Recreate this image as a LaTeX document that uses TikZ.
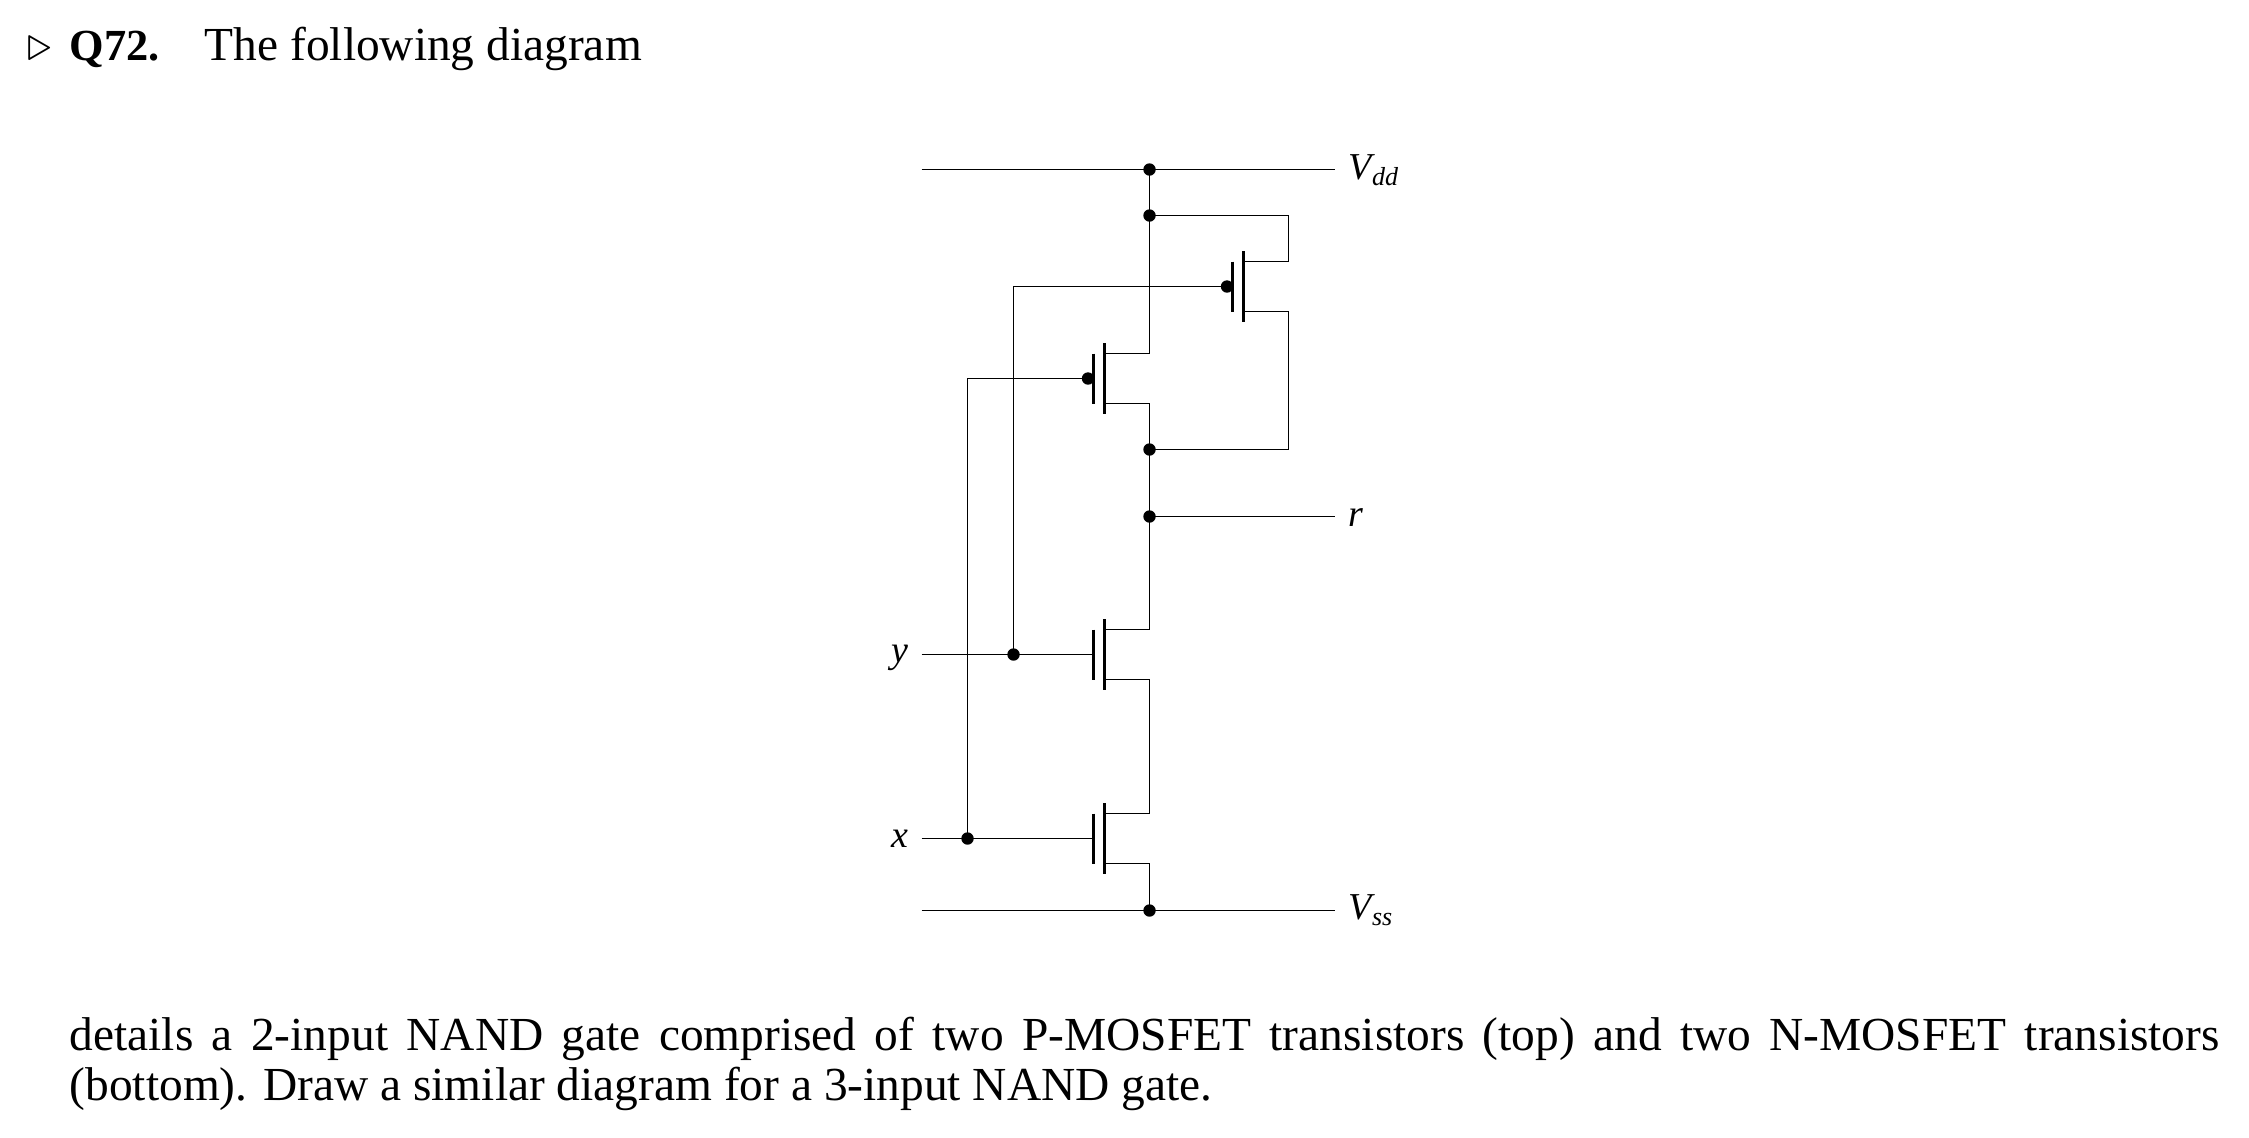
\documentclass[tikz,border=0pt]{standalone}
\usepackage{fontspec}
\setmainfont{Liberation Serif}
\begin{document}
\begin{tikzpicture}[x=0.5pt, y=-0.5pt, line width=0.8pt,
    dot/.style={circle, fill=black, inner sep=0pt, minimum size=6.2pt},
    bar/.style={line width=1.5pt},
    lbl/.style={anchor=base west, inner sep=0pt, font=\fontsize{19}{23}\selectfont\itshape},
    lblr/.style={anchor=base east, inner sep=0pt, font=\fontsize{19}{23}\selectfont\itshape},
    txt/.style={anchor=base west, inner sep=0pt, font=\fontsize{23.7}{26}\selectfont}]
    \useasboundingbox (0,0) rectangle (2249,1137);

    % text above and below
    \node[txt] (mark) at (27,60) {$\triangleright$};
    \node[txt, font=\fontsize{22.2}{26}\selectfont\bfseries] (num) at (69,60) {Q72.};
    \node[txt] (head) at (204,60) {The following diagram};
    \node[txt] (line1) at (69,1050) {\makebox[1075pt][s]{details a 2-input NAND gate comprised of two P-MOSFET transistors (top) and two N-MOSFET transistors}};
    \node[txt] (line2) at (69,1100) {(bottom). Draw a similar diagram for a 3-input NAND gate.};

    % transistors: name, channel x, gate y
    \foreach \name/\cx/\cy in {p1/1243.5/286.5, p2/1104.5/378.5, n1/1104.5/654.5, n2/1104.5/838.5} {
        \draw[bar] (\cx,\cy-35.5) -- (\cx,\cy+35.5);
        \draw[bar] (\cx-11,\cy-25) -- (\cx-11,\cy+25);
        \coordinate (\name a) at (\cx,\cy-25);
        \coordinate (\name b) at (\cx,\cy+25);
        \coordinate (\name g) at (\cx-11,\cy);
    }

    % junctions
    \node[dot] (vddj) at (1149.5,169.5) {};
    \node[dot] (j2) at (1149.5,215.5) {};
    \node[dot] (j3) at (1149.5,449.5) {};
    \node[dot] (rj) at (1149.5,516.5) {};
    \node[dot] (vssj) at (1149.5,910.5) {};
    \node[dot] (yj) at (1013.5,654.5) {};
    \node[dot] (xj) at (967.5,838.5) {};
    \node[dot] (p1dot) at (1227,286.5) {};
    \node[dot] (p2dot) at (1088,378.5) {};

    % free wire ends
    \coordinate (vddl) at (921.5,169.5);
    \coordinate (vddr) at (1334.5,169.5);
    \coordinate (vssl) at (921.5,910.5);
    \coordinate (vssr) at (1334.5,910.5);
    \coordinate (rr) at (1334.5,516.5);
    \coordinate (yl) at (921.5,654.5);
    \coordinate (xl) at (921.5,838.5);
    \coordinate (bus) at (1288.5,215.5);

    % rails
    \draw (vddl) -- (vddr);
    \draw (vssl) -- (vssr);
    \draw (rj.center) -- (rr);

    % pull-up network
    \draw (vddj.center) -- (j2.center) |- (p2a);
    \draw (j2.center) -- (bus) |- (p1a);
    \draw (p1b) -- (p1b -| bus) |- (j3.center);
    \draw (p2b) -| (j3.center);

    % pull-down network
    \draw (j3.center) -- (rj.center) |- (n1a);
    \draw (n1b) -- (n1b -| rj) |- (n2a);
    \draw (n2b) -| (vssj.center);

    % inputs
    \draw (yl) -- (n1g);
    \draw (xl) -- (n2g);
    \draw (yj.center) |- (p1g);
    \draw (xj.center) |- (p2g);

    % labels
    \node[lbl] (vddlabel) at (1348,179) {V\raisebox{-3pt}{\fontsize{13}{16}\selectfont dd}};
    \node[lbl] (rlabel) at (1348,526) {r};
    \node[lbl] (vsslabel) at (1348,919) {V\raisebox{-3pt}{\fontsize{13}{16}\selectfont ss}};
    \node[lblr] (ylabel) at (909,662) {y};
    \node[lblr] (xlabel) at (909,847) {x};
\end{tikzpicture}
\end{document}
